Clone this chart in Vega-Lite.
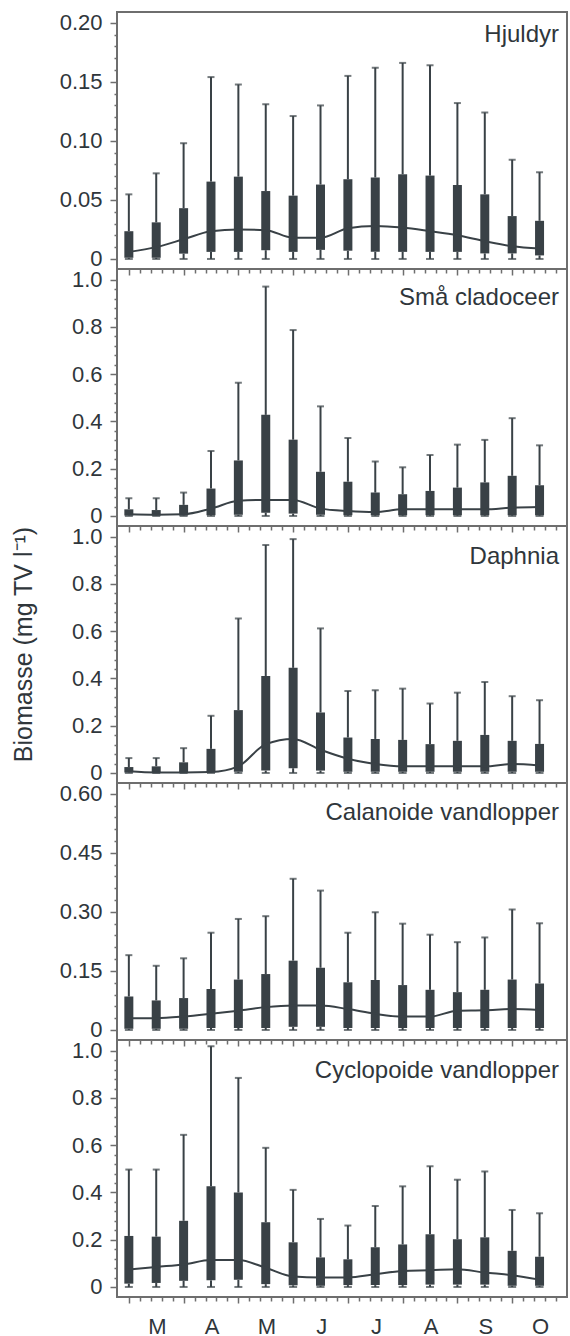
{
  "$schema": "https://vega.github.io/schema/vega-lite/v6.json",
  "padding": {"left": 10, "top": 10, "right": 4, "bottom": 0},
  "background": "white",
  "datasets": {
    "d": [
      {"p":"H","i":1,"lo":0,"q1":0.001,"md":0.006,"q3":0.0235,"hi":0.0547},
      {"p":"H","i":2,"lo":0,"q1":0.001,"md":0.010,"q3":0.031,"hi":0.0725},
      {"p":"H","i":3,"lo":0,"q1":0.0045,"md":0.0167,"q3":0.043,"hi":0.098},
      {"p":"H","i":4,"lo":0,"q1":0.006,"md":0.0235,"q3":0.0655,"hi":0.154},
      {"p":"H","i":5,"lo":0,"q1":0.006,"md":0.025,"q3":0.0697,"hi":0.1477},
      {"p":"H","i":6,"lo":0,"q1":0.0074,"md":0.0244,"q3":0.0575,"hi":0.131},
      {"p":"H","i":7,"lo":0,"q1":0.006,"md":0.018,"q3":0.0536,"hi":0.121},
      {"p":"H","i":8,"lo":0,"q1":0.0077,"md":0.018,"q3":0.063,"hi":0.130},
      {"p":"H","i":9,"lo":0,"q1":0.007,"md":0.026,"q3":0.0675,"hi":0.155},
      {"p":"H","i":10,"lo":0,"q1":0.006,"md":0.028,"q3":0.069,"hi":0.162},
      {"p":"H","i":11,"lo":0,"q1":0.006,"md":0.0266,"q3":0.0717,"hi":0.166},
      {"p":"H","i":12,"lo":0,"q1":0.006,"md":0.0235,"q3":0.0706,"hi":0.164},
      {"p":"H","i":13,"lo":0,"q1":0.006,"md":0.020,"q3":0.0626,"hi":0.132},
      {"p":"H","i":14,"lo":0,"q1":0.0047,"md":0.015,"q3":0.0547,"hi":0.124},
      {"p":"H","i":15,"lo":0,"q1":0.0047,"md":0.0108,"q3":0.0363,"hi":0.084},
      {"p":"H","i":16,"lo":0,"q1":0.003,"md":0.0088,"q3":0.0323,"hi":0.0734},

      {"p":"S","i":1,"lo":0,"q1":0.002,"md":0.007,"q3":0.028,"hi":0.075},
      {"p":"S","i":2,"lo":0,"q1":0.002,"md":0.005,"q3":0.025,"hi":0.075},
      {"p":"S","i":3,"lo":0,"q1":0.002,"md":0.007,"q3":0.047,"hi":0.099},
      {"p":"S","i":4,"lo":0,"q1":0.003,"md":0.031,"q3":0.116,"hi":0.275},
      {"p":"S","i":5,"lo":0,"q1":0.005,"md":0.064,"q3":0.235,"hi":0.564},
      {"p":"S","i":6,"lo":0,"q1":0.014,"md":0.068,"q3":0.428,"hi":0.971},
      {"p":"S","i":7,"lo":0,"q1":0.01,"md":0.068,"q3":0.323,"hi":0.787},
      {"p":"S","i":8,"lo":0,"q1":0.005,"md":0.031,"q3":0.187,"hi":0.464},
      {"p":"S","i":9,"lo":0,"q1":0.003,"md":0.021,"q3":0.145,"hi":0.33},
      {"p":"S","i":10,"lo":0,"q1":0.003,"md":0.017,"q3":0.099,"hi":0.231},
      {"p":"S","i":11,"lo":0,"q1":0.003,"md":0.028,"q3":0.092,"hi":0.206},
      {"p":"S","i":12,"lo":0,"q1":0.003,"md":0.028,"q3":0.106,"hi":0.258},
      {"p":"S","i":13,"lo":0,"q1":0.003,"md":0.028,"q3":0.12,"hi":0.302},
      {"p":"S","i":14,"lo":0,"q1":0.003,"md":0.028,"q3":0.142,"hi":0.322},
      {"p":"S","i":15,"lo":0,"q1":0.003,"md":0.035,"q3":0.17,"hi":0.414},
      {"p":"S","i":16,"lo":0,"q1":0.003,"md":0.038,"q3":0.13,"hi":0.299},

      {"p":"D","i":1,"lo":0,"q1":0.002,"md":0.007,"q3":0.025,"hi":0.063},
      {"p":"D","i":2,"lo":0,"q1":0.002,"md":0.002,"q3":0.028,"hi":0.063},
      {"p":"D","i":3,"lo":0,"q1":0.002,"md":0.002,"q3":0.045,"hi":0.105},
      {"p":"D","i":4,"lo":0,"q1":0.002,"md":0.004,"q3":0.102,"hi":0.242},
      {"p":"D","i":5,"lo":0,"q1":0.005,"md":0.028,"q3":0.266,"hi":0.654},
      {"p":"D","i":6,"lo":0,"q1":0.01,"md":0.122,"q3":0.41,"hi":0.965},
      {"p":"D","i":7,"lo":0,"q1":0.02,"md":0.144,"q3":0.445,"hi":0.99},
      {"p":"D","i":8,"lo":0,"q1":0.01,"md":0.098,"q3":0.256,"hi":0.612},
      {"p":"D","i":9,"lo":0,"q1":0.005,"md":0.06,"q3":0.15,"hi":0.347},
      {"p":"D","i":10,"lo":0,"q1":0.005,"md":0.038,"q3":0.144,"hi":0.35},
      {"p":"D","i":11,"lo":0,"q1":0.005,"md":0.028,"q3":0.14,"hi":0.357},
      {"p":"D","i":12,"lo":0,"q1":0.005,"md":0.028,"q3":0.122,"hi":0.294},
      {"p":"D","i":13,"lo":0,"q1":0.005,"md":0.028,"q3":0.136,"hi":0.34},
      {"p":"D","i":14,"lo":0,"q1":0.005,"md":0.028,"q3":0.161,"hi":0.385},
      {"p":"D","i":15,"lo":0,"q1":0.005,"md":0.038,"q3":0.136,"hi":0.325},
      {"p":"D","i":16,"lo":0,"q1":0.005,"md":0.032,"q3":0.123,"hi":0.308},

      {"p":"C","i":1,"lo":0,"q1":0.003,"md":0.03,"q3":0.085,"hi":0.19},
      {"p":"C","i":2,"lo":0,"q1":0.003,"md":0.03,"q3":0.075,"hi":0.163},
      {"p":"C","i":3,"lo":0,"q1":0.003,"md":0.034,"q3":0.081,"hi":0.182},
      {"p":"C","i":4,"lo":0,"q1":0.005,"md":0.041,"q3":0.104,"hi":0.247},
      {"p":"C","i":5,"lo":0,"q1":0.005,"md":0.049,"q3":0.128,"hi":0.282},
      {"p":"C","i":6,"lo":0,"q1":0.005,"md":0.058,"q3":0.142,"hi":0.289},
      {"p":"C","i":7,"lo":0,"q1":0.008,"md":0.062,"q3":0.176,"hi":0.384},
      {"p":"C","i":8,"lo":0,"q1":0.008,"md":0.062,"q3":0.158,"hi":0.354},
      {"p":"C","i":9,"lo":0,"q1":0.005,"md":0.053,"q3":0.121,"hi":0.247},
      {"p":"C","i":10,"lo":0,"q1":0.005,"md":0.041,"q3":0.127,"hi":0.299},
      {"p":"C","i":11,"lo":0,"q1":0.005,"md":0.034,"q3":0.114,"hi":0.27},
      {"p":"C","i":12,"lo":0,"q1":0.005,"md":0.034,"q3":0.102,"hi":0.242},
      {"p":"C","i":13,"lo":0,"q1":0.005,"md":0.049,"q3":0.096,"hi":0.223},
      {"p":"C","i":14,"lo":0,"q1":0.005,"md":0.05,"q3":0.102,"hi":0.235},
      {"p":"C","i":15,"lo":0,"q1":0.005,"md":0.053,"q3":0.128,"hi":0.306},
      {"p":"C","i":16,"lo":0,"q1":0.005,"md":0.051,"q3":0.118,"hi":0.271},

      {"p":"Y","i":1,"lo":0,"q1":0.014,"md":0.074,"q3":0.216,"hi":0.497},
      {"p":"Y","i":2,"lo":0,"q1":0.017,"md":0.085,"q3":0.213,"hi":0.497},
      {"p":"Y","i":3,"lo":0,"q1":0.026,"md":0.095,"q3":0.28,"hi":0.644},
      {"p":"Y","i":4,"lo":0,"q1":0.028,"md":0.114,"q3":0.426,"hi":1.019},
      {"p":"Y","i":5,"lo":0,"q1":0.03,"md":0.114,"q3":0.40,"hi":0.885},
      {"p":"Y","i":6,"lo":0,"q1":0.012,"md":0.081,"q3":0.274,"hi":0.589},
      {"p":"Y","i":7,"lo":0,"q1":0.007,"md":0.044,"q3":0.189,"hi":0.411},
      {"p":"Y","i":8,"lo":0,"q1":0.005,"md":0.04,"q3":0.125,"hi":0.288},
      {"p":"Y","i":9,"lo":0,"q1":0.008,"md":0.04,"q3":0.117,"hi":0.26},
      {"p":"Y","i":10,"lo":0,"q1":0.008,"md":0.054,"q3":0.168,"hi":0.343},
      {"p":"Y","i":11,"lo":0,"q1":0.008,"md":0.068,"q3":0.18,"hi":0.426},
      {"p":"Y","i":12,"lo":0,"q1":0.01,"md":0.071,"q3":0.223,"hi":0.511},
      {"p":"Y","i":13,"lo":0,"q1":0.01,"md":0.075,"q3":0.202,"hi":0.454},
      {"p":"Y","i":14,"lo":0,"q1":0.01,"md":0.061,"q3":0.21,"hi":0.489},
      {"p":"Y","i":15,"lo":0,"q1":0.005,"md":0.05,"q3":0.153,"hi":0.326},
      {"p":"Y","i":16,"lo":0,"q1":0.005,"md":0.031,"q3":0.128,"hi":0.312}
    ]
  },
  "data": {"name": "d"},
  "spacing": 0,
  "bounds": "flush",
  "vconcat": [
    {
      "width": 450, "height": 257,
      "transform": [{"filter": "datum.p == 'H'"}],
      "title": {"text": "Hjuldyr", "orient": "top", "anchor": "end", "frame": "group", "offset": -54, "baseline": "alphabetic", "dx": -8},
      "encoding": {"x": {"field": "i", "type": "quantitative", "scale": {"domain": [0.75, 16.82], "nice": false, "zero": false},
        "axis": {"title": null, "tickCount": 500, "values": [1,1.4,1.8,2.2,2.6,3,3.4,3.8,4.2,4.6,5,5.4,5.8,6.2,6.6,7,7.4,7.8,8.2,8.6,9,9.4,9.8,10.2,10.6,11,11.4,11.8,12.2,12.6,13,13.4,13.8,14.2,14.6,15,15.4,15.8,16.2,16.6], "labels": false,
          "tickSize": {"condition": {"test": "abs(datum.value - round(datum.value)) < 0.01 && round(datum.value) % 2 == 1", "value": 6}, "value": 4}}}},
      "layer": [
        {"mark": {"type": "rule", "strokeWidth": 2, "color": "#394146"},
         "encoding": {"y": {"field": "q3", "type": "quantitative", "scale": {"domain": [-0.0085, 0.2091], "nice": false, "zero": false},
           "axis": {"title": null, "tickCount": 500, "labelOverlap": false, "values": [0,0.01,0.02,0.03,0.04,0.05,0.06,0.07,0.08,0.09,0.1,0.11,0.12,0.13,0.14,0.15,0.16,0.17,0.18,0.19,0.2],
             "labelExpr": "abs(datum.value*20 - round(datum.value*20)) < 0.001 ? (abs(datum.value) < 1e-9 ? '0' : format(datum.value, '.2f')) : ''",
             "tickSize": {"condition": {"test": "abs(datum.value*20 - round(datum.value*20)) < 0.001", "value": 7}, "value": 3}}},
           "y2": {"field": "hi"}}},
        {"mark": {"type": "rule", "strokeWidth": 2, "color": "#394146"}, "encoding": {"y": {"field": "lo", "type": "quantitative", "title": null}, "y2": {"field": "q1"}}},
        {"mark": {"type": "tick", "orient": "horizontal", "size": 7, "thickness": 2, "color": "#394146"}, "encoding": {"y": {"field": "hi", "type": "quantitative", "title": null}}},
        {"mark": {"type": "tick", "orient": "horizontal", "size": 8, "thickness": 2, "color": "#394146"}, "encoding": {"y": {"field": "lo", "type": "quantitative", "title": null}}},
        {"mark": {"type": "bar", "size": 9, "color": "#394146"}, "encoding": {"y": {"field": "q1", "type": "quantitative", "title": null}, "y2": {"field": "q3"}}},
        {"mark": {"type": "line", "interpolate": "monotone", "strokeWidth": 2, "color": "#394146"}, "encoding": {"y": {"field": "md", "type": "quantitative", "title": null}}}
      ]
    },
    {
      "width": 450, "height": 257,
      "transform": [{"filter": "datum.p == 'S'"}],
      "title": {"text": "Små cladoceer", "orient": "top", "anchor": "end", "frame": "group", "offset": -60, "baseline": "alphabetic", "dx": -8},
      "encoding": {"x": {"field": "i", "type": "quantitative", "scale": {"domain": [0.75, 16.82], "nice": false, "zero": false},
        "axis": {"title": null, "tickCount": 500, "values": [1,1.4,1.8,2.2,2.6,3,3.4,3.8,4.2,4.6,5,5.4,5.8,6.2,6.6,7,7.4,7.8,8.2,8.6,9,9.4,9.8,10.2,10.6,11,11.4,11.8,12.2,12.6,13,13.4,13.8,14.2,14.6,15,15.4,15.8,16.2,16.6], "labels": false,
          "tickSize": {"condition": {"test": "abs(datum.value - round(datum.value)) < 0.01 && round(datum.value) % 2 == 1", "value": 6}, "value": 4}}}},
      "layer": [
        {"mark": {"type": "rule", "strokeWidth": 2, "color": "#394146"},
         "encoding": {"y": {"field": "q3", "type": "quantitative", "scale": {"domain": [-0.0425, 1.0455], "nice": false, "zero": false},
           "axis": {"title": null, "tickCount": 500, "labelOverlap": false, "values": [0,0.04,0.08,0.12,0.16,0.2,0.24,0.28,0.32,0.36,0.4,0.44,0.48,0.52,0.56,0.6,0.64,0.68,0.72,0.76,0.8,0.84,0.88,0.92,0.96,1],
             "labelExpr": "abs(datum.value*5 - round(datum.value*5)) < 0.001 ? (abs(datum.value) < 1e-9 ? '0' : format(datum.value, '.1f')) : ''",
             "tickSize": {"condition": {"test": "abs(datum.value*5 - round(datum.value*5)) < 0.001", "value": 7}, "value": 3}}},
           "y2": {"field": "hi"}}},
        {"mark": {"type": "rule", "strokeWidth": 2, "color": "#394146"}, "encoding": {"y": {"field": "lo", "type": "quantitative", "title": null}, "y2": {"field": "q1"}}},
        {"mark": {"type": "tick", "orient": "horizontal", "size": 7, "thickness": 2, "color": "#394146"}, "encoding": {"y": {"field": "hi", "type": "quantitative", "title": null}}},
        {"mark": {"type": "tick", "orient": "horizontal", "size": 8, "thickness": 2, "color": "#394146"}, "encoding": {"y": {"field": "lo", "type": "quantitative", "title": null}}},
        {"mark": {"type": "bar", "size": 9, "color": "#394146"}, "encoding": {"y": {"field": "q1", "type": "quantitative", "title": null}, "y2": {"field": "q3"}}},
        {"mark": {"type": "line", "interpolate": "monotone", "strokeWidth": 2, "color": "#394146"}, "encoding": {"y": {"field": "md", "type": "quantitative", "title": null}}}
      ]
    },
    {
      "width": 450, "height": 257,
      "transform": [{"filter": "datum.p == 'D'"}],
      "title": {"text": "Daphnia", "orient": "top", "anchor": "end", "frame": "group", "offset": -62, "baseline": "alphabetic", "dx": -8},
      "encoding": {"x": {"field": "i", "type": "quantitative", "scale": {"domain": [0.75, 16.82], "nice": false, "zero": false},
        "axis": {"title": null, "tickCount": 500, "values": [1,1.4,1.8,2.2,2.6,3,3.4,3.8,4.2,4.6,5,5.4,5.8,6.2,6.6,7,7.4,7.8,8.2,8.6,9,9.4,9.8,10.2,10.6,11,11.4,11.8,12.2,12.6,13,13.4,13.8,14.2,14.6,15,15.4,15.8,16.2,16.6], "labels": false,
          "tickSize": {"condition": {"test": "abs(datum.value - round(datum.value)) < 0.01 && round(datum.value) % 2 == 1", "value": 6}, "value": 4}}}},
      "layer": [
        {"mark": {"type": "rule", "strokeWidth": 2, "color": "#394146"},
         "encoding": {"y": {"field": "q3", "type": "quantitative", "title": "Biomasse (mg TV l⁻¹)", "scale": {"domain": [-0.0425, 1.0455], "nice": false, "zero": false},
           "axis": {"title": "Biomasse (mg TV l⁻¹)", "titlePadding": 35, "titleFontSize": 25, "titleY": 118, "tickCount": 500, "labelOverlap": false, "values": [0,0.04,0.08,0.12,0.16,0.2,0.24,0.28,0.32,0.36,0.4,0.44,0.48,0.52,0.56,0.6,0.64,0.68,0.72,0.76,0.8,0.84,0.88,0.92,0.96,1],
             "labelExpr": "abs(datum.value*5 - round(datum.value*5)) < 0.001 ? (abs(datum.value) < 1e-9 ? '0' : format(datum.value, '.1f')) : ''",
             "tickSize": {"condition": {"test": "abs(datum.value*5 - round(datum.value*5)) < 0.001", "value": 7}, "value": 3}}},
           "y2": {"field": "hi"}}},
        {"mark": {"type": "rule", "strokeWidth": 2, "color": "#394146"}, "encoding": {"y": {"field": "lo", "type": "quantitative", "title": "Biomasse (mg TV l⁻¹)"}, "y2": {"field": "q1"}}},
        {"mark": {"type": "tick", "orient": "horizontal", "size": 7, "thickness": 2, "color": "#394146"}, "encoding": {"y": {"field": "hi", "type": "quantitative", "title": "Biomasse (mg TV l⁻¹)"}}},
        {"mark": {"type": "tick", "orient": "horizontal", "size": 8, "thickness": 2, "color": "#394146"}, "encoding": {"y": {"field": "lo", "type": "quantitative", "title": "Biomasse (mg TV l⁻¹)"}}},
        {"mark": {"type": "bar", "size": 9, "color": "#394146"}, "encoding": {"y": {"field": "q1", "type": "quantitative", "title": "Biomasse (mg TV l⁻¹)"}, "y2": {"field": "q3"}}},
        {"mark": {"type": "line", "interpolate": "monotone", "strokeWidth": 2, "color": "#394146"}, "encoding": {"y": {"field": "md", "type": "quantitative", "title": "Biomasse (mg TV l⁻¹)"}}}
      ]
    },
    {
      "width": 450, "height": 257,
      "transform": [{"filter": "datum.p == 'C'"}],
      "title": {"text": "Calanoide vandlopper", "orient": "top", "anchor": "end", "frame": "group", "offset": -61, "baseline": "alphabetic", "dx": -8},
      "encoding": {"x": {"field": "i", "type": "quantitative", "scale": {"domain": [0.75, 16.82], "nice": false, "zero": false},
        "axis": {"title": null, "tickCount": 500, "values": [1,1.4,1.8,2.2,2.6,3,3.4,3.8,4.2,4.6,5,5.4,5.8,6.2,6.6,7,7.4,7.8,8.2,8.6,9,9.4,9.8,10.2,10.6,11,11.4,11.8,12.2,12.6,13,13.4,13.8,14.2,14.6,15,15.4,15.8,16.2,16.6], "labels": false,
          "tickSize": {"condition": {"test": "abs(datum.value - round(datum.value)) < 0.01 && round(datum.value) % 2 == 1", "value": 6}, "value": 4}}}},
      "layer": [
        {"mark": {"type": "rule", "strokeWidth": 2, "color": "#394146"},
         "encoding": {"y": {"field": "q3", "type": "quantitative", "scale": {"domain": [-0.0255, 0.6273], "nice": false, "zero": false},
           "axis": {"title": null, "tickCount": 500, "labelOverlap": false, "values": [0,0.03,0.06,0.09,0.12,0.15,0.18,0.21,0.24,0.27,0.3,0.33,0.36,0.39,0.42,0.45,0.48,0.51,0.54,0.57,0.6],
             "labelExpr": "abs(datum.value/0.15 - round(datum.value/0.15)) < 0.001 ? (abs(datum.value) < 1e-9 ? '0' : format(datum.value, '.2f')) : ''",
             "tickSize": {"condition": {"test": "abs(datum.value/0.15 - round(datum.value/0.15)) < 0.001", "value": 7}, "value": 3}}},
           "y2": {"field": "hi"}}},
        {"mark": {"type": "rule", "strokeWidth": 2, "color": "#394146"}, "encoding": {"y": {"field": "lo", "type": "quantitative", "title": null}, "y2": {"field": "q1"}}},
        {"mark": {"type": "tick", "orient": "horizontal", "size": 7, "thickness": 2, "color": "#394146"}, "encoding": {"y": {"field": "hi", "type": "quantitative", "title": null}}},
        {"mark": {"type": "tick", "orient": "horizontal", "size": 8, "thickness": 2, "color": "#394146"}, "encoding": {"y": {"field": "lo", "type": "quantitative", "title": null}}},
        {"mark": {"type": "bar", "size": 9, "color": "#394146"}, "encoding": {"y": {"field": "q1", "type": "quantitative", "title": null}, "y2": {"field": "q3"}}},
        {"mark": {"type": "line", "interpolate": "monotone", "strokeWidth": 2, "color": "#394146"}, "encoding": {"y": {"field": "md", "type": "quantitative", "title": null}}}
      ]
    },
    {
      "width": 450, "height": 257,
      "transform": [{"filter": "datum.p == 'Y'"}],
      "title": {"text": "Cyclopoide vandlopper", "orient": "top", "anchor": "end", "frame": "group", "offset": -62, "baseline": "alphabetic", "dx": -8},
      "encoding": {"x": {"field": "i", "type": "quantitative", "scale": {"domain": [0.75, 16.82], "nice": false, "zero": false},
        "axis": {"title": null, "tickCount": 500, "values": [1,1.4,1.8,2.2,2.6,3,3.4,3.8,4.2,4.6,5,5.4,5.8,6.2,6.6,7,7.4,7.8,8.2,8.6,9,9.4,9.8,10.2,10.6,11,11.4,11.8,12.2,12.6,13,13.4,13.8,14.2,14.6,15,15.4,15.8,16.2,16.6],
          "labelExpr": "(abs(datum.value - round(datum.value)) < 0.01 && round(datum.value) % 2 == 1) ? ['M','A','M','J','J','A','S','O'][(round(datum.value) - 1) / 2] : ''",
          "labelOffset": 28, "labelOverlap": false, "labelFlush": false, "labelPadding": 13,
          "tickSize": {"condition": {"test": "abs(datum.value - round(datum.value)) < 0.01 && round(datum.value) % 2 == 1", "value": 6}, "value": 4}}}},
      "layer": [
        {"mark": {"type": "rule", "strokeWidth": 2, "color": "#394146"},
         "encoding": {"y": {"field": "q3", "type": "quantitative", "scale": {"domain": [-0.0425, 1.0455], "nice": false, "zero": false},
           "axis": {"title": null, "tickCount": 500, "labelOverlap": false, "values": [0,0.04,0.08,0.12,0.16,0.2,0.24,0.28,0.32,0.36,0.4,0.44,0.48,0.52,0.56,0.6,0.64,0.68,0.72,0.76,0.8,0.84,0.88,0.92,0.96,1],
             "labelExpr": "abs(datum.value*5 - round(datum.value*5)) < 0.001 ? (abs(datum.value) < 1e-9 ? '0' : format(datum.value, '.1f')) : ''",
             "tickSize": {"condition": {"test": "abs(datum.value*5 - round(datum.value*5)) < 0.001", "value": 7}, "value": 3}}},
           "y2": {"field": "hi"}}},
        {"mark": {"type": "rule", "strokeWidth": 2, "color": "#394146"}, "encoding": {"y": {"field": "lo", "type": "quantitative", "title": null}, "y2": {"field": "q1"}}},
        {"mark": {"type": "tick", "orient": "horizontal", "size": 7, "thickness": 2, "color": "#394146"}, "encoding": {"y": {"field": "hi", "type": "quantitative", "title": null}}},
        {"mark": {"type": "tick", "orient": "horizontal", "size": 8, "thickness": 2, "color": "#394146"}, "encoding": {"y": {"field": "lo", "type": "quantitative", "title": null}}},
        {"mark": {"type": "bar", "size": 9, "color": "#394146"}, "encoding": {"y": {"field": "q1", "type": "quantitative", "title": null}, "y2": {"field": "q3"}}},
        {"mark": {"type": "line", "interpolate": "monotone", "strokeWidth": 2, "color": "#394146"}, "encoding": {"y": {"field": "md", "type": "quantitative", "title": null}}}
      ]
    }
  ],
  "config": {
    "font": "Liberation Sans",
    "view": {"stroke": "#6e6e6e", "strokeWidth": 2},
    "axis": {"domain": false, "grid": false, "labelOverlap": false, "labelFont": "Liberation Sans", "labelFontSize": 22, "labelColor": "#2f363b", "labelPadding": 8,
      "tickColor": "#6e6e6e", "tickWidth": 1.5, "titleFont": "Liberation Sans", "titleFontSize": 24, "titleFontWeight": "normal", "titleColor": "#2f363b"},
    "title": {"font": "Liberation Sans", "fontSize": 24, "fontWeight": "normal", "color": "#2f363b"}
  }
}
